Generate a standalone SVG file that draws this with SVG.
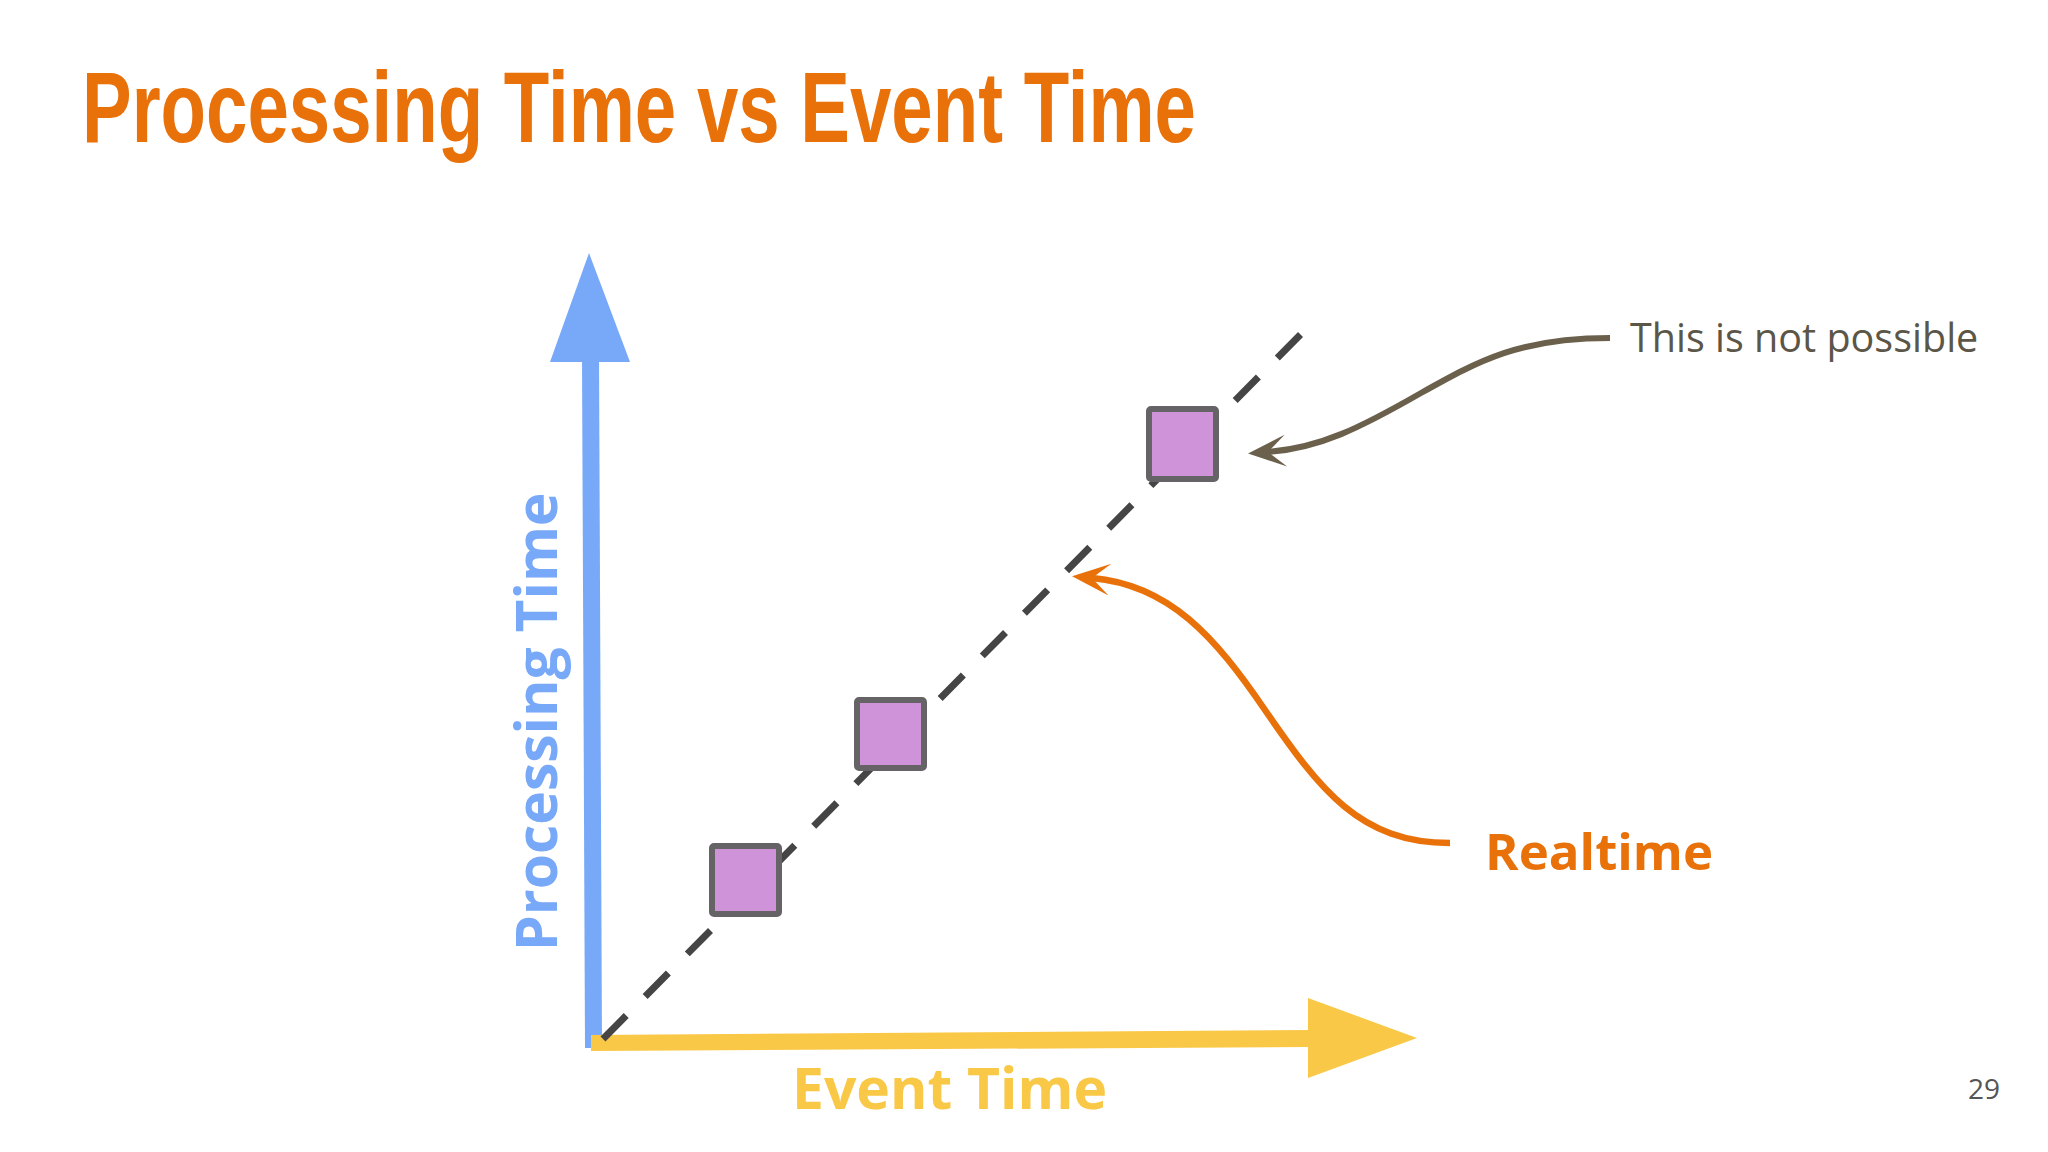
<svg xmlns="http://www.w3.org/2000/svg" width="2048" height="1152" viewBox="0 0 2048 1152">
  <style>
    .title { font-family: "Liberation Sans Narrow", "Liberation Sans", "DejaVu Sans Condensed", sans-serif; font-weight: bold; font-size: 100px; fill: #E8710A; }
    .axis-label { font-family: "Open Sans", "Noto Sans", sans-serif; font-weight: bold; font-size: 57px; }
    .note { font-family: "Open Sans", "Noto Sans", sans-serif; font-size: 39.5px; fill: #5B5647; }
    .realtime { font-family: "Open Sans", "Noto Sans", sans-serif; font-weight: bold; font-size: 51px; fill: #E8710A; }
    .page { font-family: "Open Sans", "Noto Sans", sans-serif; font-size: 28px; fill: #555555; }
    .point { fill: #CE93D8; stroke: #666366; stroke-width: 6; }
    .diag { fill: none; stroke: #454545; stroke-width: 7; stroke-dasharray: 33 26.9; }
  </style>
  <defs>
    <marker id="head-brown" markerUnits="userSpaceOnUse" viewBox="0 0 40 32" refX="20" refY="16" markerWidth="40" markerHeight="32" orient="auto">
      <path d="M40,16 L2,0 L20,16 L2,32 Z" fill="#6B604B"/>
    </marker>
    <marker id="head-orange" markerUnits="userSpaceOnUse" viewBox="0 0 40 32" refX="20" refY="16" markerWidth="40" markerHeight="32" orient="auto">
      <path d="M40,16 L2,0 L20,16 L2,32 Z" fill="#E8710A"/>
    </marker>
  </defs>
  <rect width="2048" height="1152" fill="#FFFFFF"/>

  <text class="title" x="82" y="142" textLength="1114" lengthAdjust="spacingAndGlyphs">Processing Time vs Event Time</text>

  <g id="y-axis">
    <line x1="590.5" y1="355" x2="593.5" y2="1048" stroke="#78A8F8" stroke-width="17"/>
    <polygon points="589,253 550,362 630,362" fill="#78A8F8"/>
    <text class="axis-label" fill="#78A8F8" transform="translate(557,951) rotate(-90)">Processing Time</text>
  </g>

  <g id="x-axis">
    <polygon points="591,1035 1310,1030 1310,1047 591,1051" fill="#F9C846"/>
    <polygon points="1308,998 1417,1038 1308,1078" fill="#F9C846"/>
    <text class="axis-label" fill="#F9C846" x="792" y="1109">Event Time</text>
  </g>

  <g id="connectors">
    <line class="diag" x1="603" y1="1039" x2="1301" y2="334"/>
    <path d="M1610,338 C1520,338 1480,360 1421,393 C1360,428 1320,448 1268,452" fill="none" stroke="#6B604B" stroke-width="6" marker-end="url(#head-brown)"/>
    <path d="M1450,843 C1360,843 1320,790 1265,710 C1215,637 1170,585 1092,578" fill="none" stroke="#E8710A" stroke-width="6.5" marker-end="url(#head-orange)"/>
  </g>

  <g id="point-1"><rect class="point" x="712" y="846" width="67" height="68" rx="2"/></g>
  <g id="point-2"><rect class="point" x="857" y="700" width="67" height="68" rx="2"/></g>
  <g id="point-3"><rect class="point" x="1149" y="409" width="67" height="70" rx="2"/></g>

  <g id="label-not-possible"><text class="note" x="1630" y="352">This is not possible</text></g>
  <g id="label-realtime"><text class="realtime" x="1485" y="870">Realtime</text></g>

  <text class="page" x="2000" y="1099" text-anchor="end">29</text>
</svg>
